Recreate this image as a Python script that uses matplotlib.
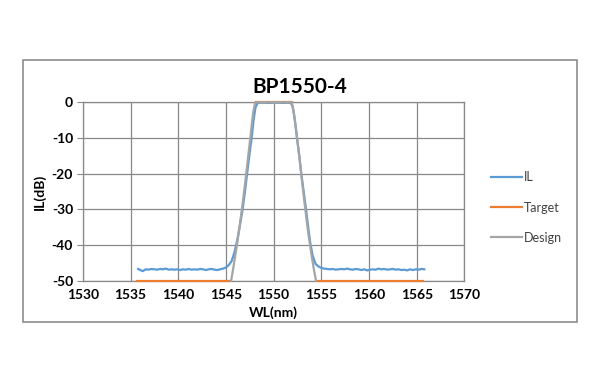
import matplotlib.pyplot as plt
from matplotlib.patches import Rectangle

il_wl = [1535.8, 1536.1, 1536.3, 1536.6, 1536.9, 1537.2, 1537.5, 1537.8, 1538.1, 1538.4,
         1538.7, 1539.0, 1539.3, 1539.6, 1539.9, 1540.2, 1540.5, 1540.8, 1541.1, 1541.4,
         1541.7, 1542.0, 1542.3, 1542.6, 1542.9, 1543.2, 1543.5, 1543.8, 1544.1, 1544.4,
         1544.7, 1545.0, 1545.3, 1545.6, 1545.9, 1546.2, 1546.5, 1546.75, 1547.0, 1547.2,
         1547.45, 1547.7, 1547.9, 1548.1, 1548.3, 1548.6, 1549.0, 1549.5, 1550.0, 1550.5,
         1551.0, 1551.5, 1551.8, 1552.0, 1552.2, 1552.45, 1552.7, 1552.9, 1553.15, 1553.4,
         1553.65, 1553.85, 1554.1, 1554.4, 1554.7, 1555.0, 1555.3, 1555.6, 1555.9, 1556.2,
         1556.5, 1556.8, 1557.1, 1557.4, 1557.7, 1558.0, 1558.3, 1558.6, 1558.9, 1559.2,
         1559.5, 1559.8, 1560.1, 1560.4, 1560.7, 1561.0, 1561.3, 1561.6, 1561.9, 1562.2,
         1562.5, 1562.8, 1563.1, 1563.4, 1563.7, 1564.0, 1564.3, 1564.6, 1564.9, 1565.2,
         1565.5, 1565.8]
il_db = [-46.7, -47.1, -47.3, -46.8, -46.9, -46.7, -46.8, -46.9, -46.7, -46.8,
         -46.6, -46.9, -46.8, -46.9, -46.8, -47.0, -46.8, -46.9, -46.7, -46.9,
         -46.8, -46.9, -46.7, -46.8, -47.0, -46.8, -46.7, -46.9, -47.0, -46.8,
         -46.6, -46.3, -45.6, -44.5, -42.0, -38.5, -34.0, -30.0, -25.0, -20.5,
         -15.0, -10.0, -5.0, -1.5, -0.3, -0.1, -0.1, -0.2, -0.1, -0.1,
         -0.2, -0.1, -0.2, -1.2, -4.5, -10.0, -15.0, -20.0, -25.0, -30.0,
         -35.5, -39.5, -43.0, -45.3, -46.0, -46.4, -46.6, -46.7, -46.8, -46.7,
         -46.9, -46.8, -46.7, -46.8, -46.6, -46.8, -46.9, -46.7, -46.8, -47.0,
         -46.8, -47.1, -46.9, -46.8, -46.9, -46.6, -46.8, -46.7, -46.9, -46.8,
         -46.7, -46.9, -46.8, -47.0, -46.9, -47.1, -46.8, -47.0, -46.8, -46.9,
         -46.7, -46.8]

target_wl = [1535.7, 1545.45, None, 1548.2, 1551.9, None, 1554.55, 1565.7]
target_db = [-50, -50, None, 0, 0, None, -50, -50]

design_wl = [1545.55, 1545.8, 1546.1, 1546.4, 1546.7, 1547.0, 1547.3, 1547.6, 1547.85, 1548.05,
             1548.3, 1551.9, 1552.1, 1552.4, 1552.7, 1553.0, 1553.3, 1553.6, 1553.9, 1554.2,
             1554.45]
design_db = [-50, -46, -41, -35.5, -29.5, -23, -16, -9, -3, -0.3,
             0, 0, -2.5, -8.5, -15.5, -22.5, -29.5, -36, -41.5, -46.5,
             -50]

x_ticks = [1530, 1535, 1540, 1545, 1550, 1555, 1560, 1565, 1570]
y_ticks = [0, -10, -20, -30, -40, -50]

plt.rcParams['font.family'] = ['Lato', 'DejaVu Sans']
plt.rcParams['axes.unicode_minus'] = False

fig = plt.figure(figsize=(6, 3.83), dpi=100)
fig.patches.append(Rectangle((0.038, 0.159), 0.924, 0.684, transform=fig.transFigure,
                             fill=False, edgecolor='#8c8c8c', linewidth=1.2))

ax = fig.add_axes([0.138, 0.267, 0.636, 0.466])
ax.plot(il_wl, il_db, color='#5B9BD5', lw=1.6, label='IL', clip_on=False, zorder=3)
tw = [float('nan') if v is None else v for v in target_wl]
td = [float('nan') if v is None else v for v in target_db]
ax.plot(tw, td, color='#ED7D31', lw=1.6, label='Target', clip_on=False, zorder=4)
ax.plot(design_wl, design_db, color='#A5A5A5', lw=1.6, label='Design', clip_on=False, zorder=5)

ax.set_xlim(1530, 1570)
ax.set_ylim(-50, 0)
ax.set_xticks(x_ticks)
ax.set_yticks(y_ticks)
ax.grid(True, color='#888888', lw=0.9)
for s in ax.spines.values():
    s.set_color('#888888')
    s.set_linewidth(0.9)
ax.tick_params(axis='x', length=0, pad=6, labelsize=10)
ax.tick_params(axis='y', length=4, color='#888888', labelsize=10, pad=3)
for lbl in ax.get_xticklabels() + ax.get_yticklabels():
    lbl.set_fontweight('bold')

ax.set_xlabel('WL(nm)', fontsize=10, fontweight='bold', labelpad=4)
ax.set_ylabel('IL(dB)', fontsize=10, fontweight='bold', labelpad=4)
fig.text(0.5, 0.773, 'BP1550-4', ha='center', va='center', fontsize=15, fontweight='bold')

ax.legend(loc='center left', bbox_to_anchor=(1.04, 0.41), frameon=False, fontsize=9,
          handlelength=2.5, handletextpad=0.1, labelspacing=1.45, labelcolor='#404040')

fig.savefig('out.png', dpi=100)
